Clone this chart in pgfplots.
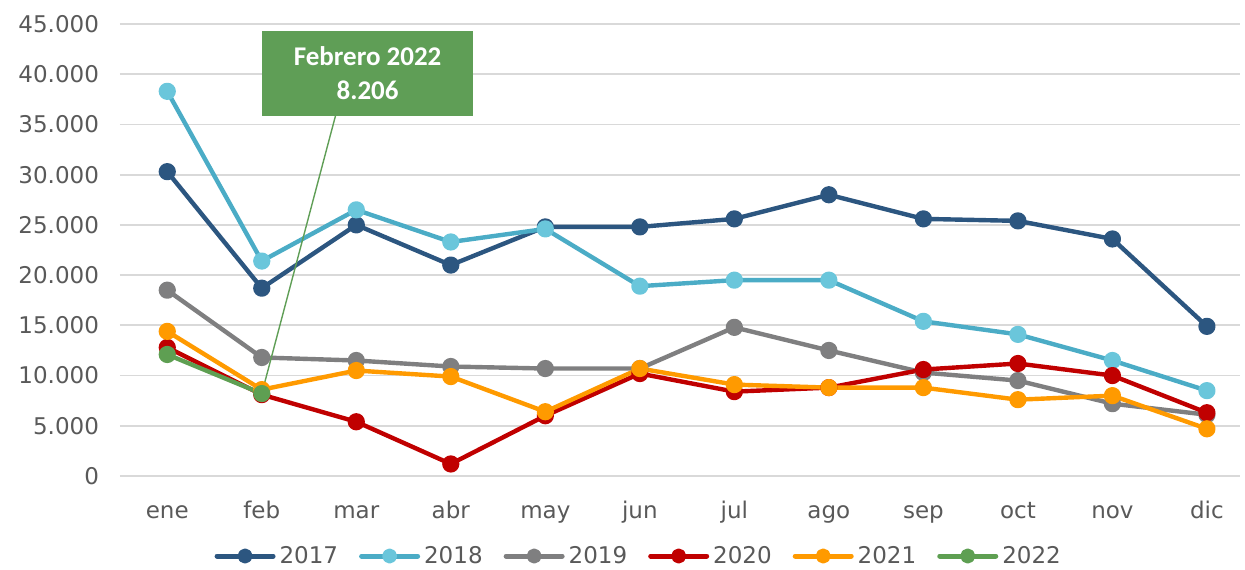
\documentclass[border=0pt]{standalone}
\usepackage{pgfplots}
\pgfplotsset{compat=1.18}
\usepackage{fontspec}
\setmainfont{DejaVu Sans}
\newfontfamily\calloutfont{Carlito}
\usetikzlibrary{calc}
\definecolor{c17}{HTML}{2C5680}
\definecolor{c18}{HTML}{4BACC6}
\definecolor{c18m}{HTML}{6AC6DB}
\definecolor{c19}{HTML}{7F7F80}
\definecolor{c20}{HTML}{C00000}
\definecolor{c21}{HTML}{FF9A00}
\definecolor{c22}{HTML}{5E9F52}
\definecolor{boxg}{HTML}{5F9E56}
\definecolor{tickgray}{HTML}{595959}
\definecolor{gridgray}{HTML}{D9D9D9}
\begin{document}
\begin{tikzpicture}
\begin{axis}[
  name=ax,
  at={(0,0)}, anchor=south west,
  scale only axis, width=560pt, height=226pt,
  xmin=-0.5, xmax=11.35, ymin=0, ymax=45000,
  xtick={0,...,11},
  xticklabels={ene,feb,mar,abr,may,jun,jul,ago,sep,oct,nov,dic},
  ytick={0,5000,...,45000},
  scaled y ticks=false,
  /pgf/number format/fixed,
  /pgf/number format/1000 sep={.},
  /pgf/number format/assume math mode=true,
  axis line style={draw=none},
  major tick length=0pt,
  ymajorgrids, grid style={gridgray, line width=0.9pt},
  tick label style={font=\fontsize{11.5}{14}\selectfont, text=tickgray},
  yticklabel style={xshift=-7pt},
  xticklabel style={yshift=-9pt, text height=8.5pt, text depth=2.5pt},
  every axis plot/.append style={line width=2.2pt, line join=round, mark=*, mark size=3.2pt},
  legend columns=-1,
  legend style={draw=none, fill=none, at={(0.464,-0.177)}, anchor=center,
    font=\fontsize{11.5}{14}\selectfont, text=tickgray,
    /tikz/every even column/.append style={column sep=8.5pt},
    /tikz/every odd column/.append style={column sep=0pt}},
  legend image code/.code={\draw[#1, line width=2.5pt, line cap=round, mark repeat=2, mark phase=2, mark size=2.5pt] plot coordinates {(0pt,0pt) (14pt,0pt) (28pt,0pt)};},
]
\addplot[c17, mark options={fill=c17, draw=c17}] coordinates {
(0,30300) (1,18700) (2,25000) (3,21000) (4,24800) (5,24800) (6,25600) (7,28000) (8,25600) (9,25400) (10,23600) (11,14900)};
\addlegendentry{2017}
\addplot[c18, mark options={fill=c18m, draw=c18m}] coordinates {
(0,38300) (1,21400) (2,26500) (3,23300) (4,24600) (5,18900) (6,19500) (7,19500) (8,15400) (9,14100) (10,11500) (11,8500)};
\addlegendentry{2018}
\addplot[c19, mark options={fill=c19, draw=c19}] coordinates {
(0,18500) (1,11800) (2,11500) (3,10900) (4,10700) (5,10700) (6,14800) (7,12500) (8,10300) (9,9500) (10,7200) (11,6100)};
\addlegendentry{2019}
\addplot[c20, mark options={fill=c20, draw=c20}] coordinates {
(0,12800) (1,8100) (2,5400) (3,1200) (4,6000) (5,10200) (6,8400) (7,8800) (8,10600) (9,11200) (10,10000) (11,6300)};
\addlegendentry{2020}
\addplot[c21, mark options={fill=c21, draw=c21}] coordinates {
(0,14400) (1,8600) (2,10500) (3,9900) (4,6400) (5,10700) (6,9100) (7,8800) (8,8800) (9,7600) (10,8000) (11,4700)};
\addlegendentry{2021}
\addplot[c22, mark options={fill=c22, draw=c22}] coordinates {
(0,12100) (1,8206)};
\addlegendentry{2022}
\draw[boxg, line width=0.7pt] (axis cs:1.78,35860) -- (axis cs:1,8206);
\fill[boxg] (axis cs:1.005,44300) rectangle (axis cs:3.24,35860);
\node[text=white, font=\calloutfont\bfseries\fontsize{13.5}{17}\selectfont, align=center] at (axis cs:2.12,40100) {Febrero 2022\\8.206};
\end{axis}
\pgfresetboundingbox
\useasboundingbox ($(ax.south west)+(-60pt,-46.5pt)$) rectangle ($(ax.south west)+(562.5pt,238pt)$);
\end{tikzpicture}
\end{document}
